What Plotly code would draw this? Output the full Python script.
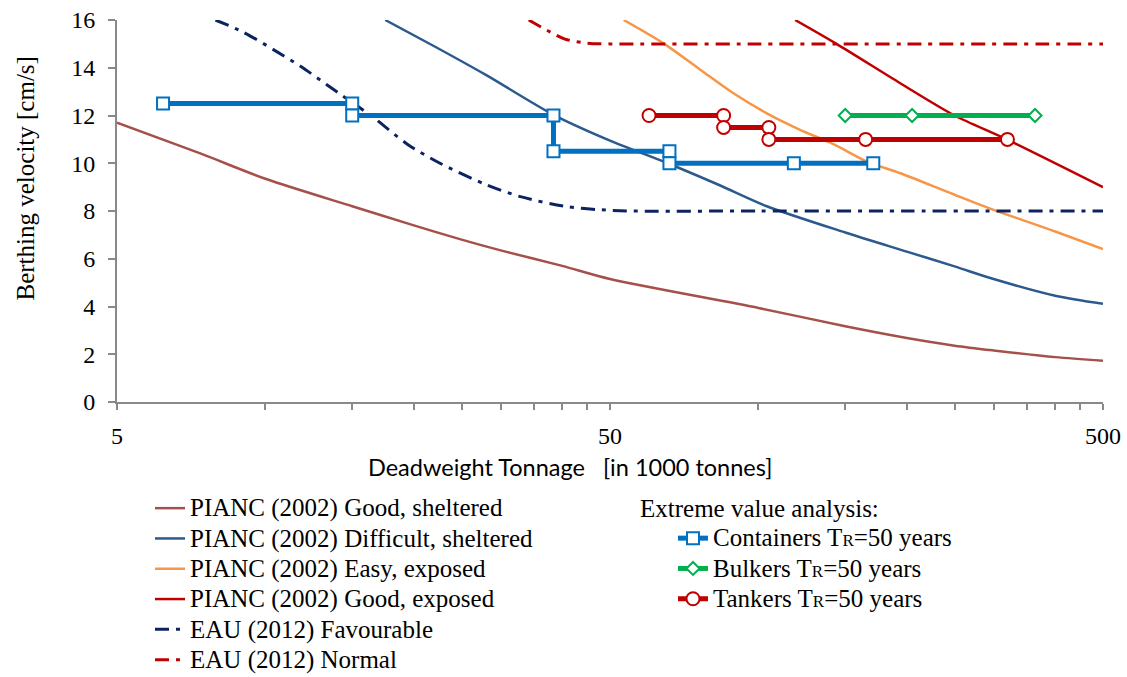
import math
import plotly.graph_objects as go

# ---------------- data ----------------
# x: deadweight tonnage in 1000 t, y: berthing velocity in cm/s
pianc_good_sheltered_x = [5, 7.4, 10, 15, 20, 25, 30, 40, 50, 100, 150, 200, 250, 300, 400, 500]
pianc_good_sheltered_y = [11.7, 10.4, 9.35, 8.2, 7.4, 6.8, 6.35, 5.7, 5.15, 3.94, 3.17, 2.68, 2.36, 2.16, 1.88, 1.73]

pianc_difficult_sheltered_x = [17.5, 22, 28, 38.4, 50, 66, 83, 104, 150, 200, 250, 300, 400, 500]
pianc_difficult_sheltered_y = [16, 14.9, 13.7, 12.03, 10.95, 9.97, 9.1, 8.2, 7.1, 6.3, 5.68, 5.15, 4.45, 4.11]

pianc_easy_exposed_x = [53.3, 64.2, 76.2, 89, 104, 121.5, 142, 166, 194, 250, 300, 400, 500]
pianc_easy_exposed_y = [16, 15.02, 13.92, 12.93, 12.09, 11.4, 10.8, 10.07, 9.58, 8.68, 8.05, 7.14, 6.41]

pianc_good_exposed_x = [118.7, 144, 194, 250, 319, 500]
pianc_good_exposed_y = [16, 15.0, 13.35, 12.0, 11.0, 9.0]

eau_favourable_x = [7.92, 9.0, 10.4, 11.8, 13.3, 14.4, 16.6, 19.4, 22.6, 27.7, 32.9, 40.9, 48, 55, 100, 200, 500]
eau_favourable_y = [16, 15.5, 14.75, 14.05, 13.3, 12.8, 11.9, 10.8, 10.0, 9.15, 8.6, 8.18, 8.05, 8.0, 8.0, 8.0, 8.0]

eau_normal_x = [34.2, 37.8, 40.5, 45, 50, 100, 200, 500]
eau_normal_y = [16, 15.5, 15.2, 15.03, 15.0, 15.0, 15.0, 15.0]

containers_x = [6.2, 15, 15, 38.4, 38.4, 66, 66, 118, 171]
containers_y = [12.5, 12.5, 12, 12, 10.5, 10.5, 10, 10, 10]

bulkers_x = [150, 205, 364]
bulkers_y = [12, 12, 12]

tankers_x = [60, 85, 85, 105, 105, 165, 320]
tankers_y = [12, 12, 11.5, 11.5, 11, 11, 11]

x_major_ticks = [5, 50, 500]
x_major_labels = ["5", "50", "500"]
x_minor_ticks = [10, 15, 20, 25, 30, 35, 40, 45, 100, 150, 200, 250, 300, 350, 400, 450]

# ---------------- styling ----------------
SERIF = "Liberation Serif"
SANS = "Lato"
AXIS_GREY = "#898989"

W, H = 1127, 677
ML, MR, MT, MB = 117, 24, 20, 275
PW, PH = W - ML - MR, H - MT - MB


def px_x(p):
    return (p - ML) / PW


def px_y(p):
    return (H - MB - p) / PH


def cx(p):
    return p / W


def cy(p):
    return 1 - p / H


def big(txt):
    return "<span style='font-size:25px'>" + txt + "</span>"


def tr_name(kind):
    return ("<span style='font-size:25px'>" + kind + " T</span>"
            "<span style='font-size:17px'>R</span>"
            "<span style='font-size:25px'>=50 years</span>")


fig = go.Figure()


def curve(x, y, name, color, dash=None, width=2.5):
    fig.add_trace(go.Scatter(
        x=x, y=y, mode="lines", name=big(name), legend="legend",
        line=dict(color=color, width=width, dash=dash, shape="spline", smoothing=0.8),
        hoverinfo="skip"))


DASHDOT = "14px,7px,4px,7px"
curve(pianc_good_sheltered_x, pianc_good_sheltered_y, "PIANC (2002) Good, sheltered", "#A6504B")
curve(pianc_difficult_sheltered_x, pianc_difficult_sheltered_y, "PIANC (2002) Difficult, sheltered", "#2C5A8E")
curve(pianc_easy_exposed_x, pianc_easy_exposed_y, "PIANC (2002) Easy, exposed", "#F79646")
curve(pianc_good_exposed_x, pianc_good_exposed_y, "PIANC (2002) Good, exposed", "#C00000")
curve(eau_favourable_x, eau_favourable_y, "EAU (2012) Favourable", "#0B2461", DASHDOT, 3)
curve(eau_normal_x, eau_normal_y, "EAU (2012) Normal", "#C00000", DASHDOT, 3)


def evs(x, y, kind, color, symbol, size):
    fig.add_trace(go.Scatter(
        x=x, y=y, mode="lines+markers", name=tr_name(kind), legend="legend2",
        line=dict(color=color, width=5),
        marker=dict(symbol=symbol, size=size, color="white", line=dict(color=color, width=2)),
        hoverinfo="skip"))


evs(containers_x, containers_y, "Containers", "#0070C0", "square", 12)
evs(bulkers_x, bulkers_y, "Bulkers", "#00B050", "diamond", 10)
evs(tankers_x, tankers_y, "Tankers", "#C00000", "circle", 13)

axis_common = dict(
    showline=True, linecolor=AXIS_GREY, linewidth=2,
    ticks="outside", tickcolor=AXIS_GREY, tickwidth=1.5,
    showgrid=False, zeroline=False, automargin=False,
    tickfont=dict(family=SERIF, size=24, color="black"),
)

x_range = [math.log10(5), math.log10(500)]

fig.update_layout(
    width=W, height=H,
    margin=dict(l=ML, r=MR, t=MT, b=MB, pad=0, autoexpand=False),
    paper_bgcolor="white", plot_bgcolor="white",
    font=dict(family=SERIF, size=21, color="black"),
    xaxis=dict(
        type="log", range=x_range,
        tickmode="array", tickvals=x_major_ticks, ticktext=x_major_labels,
        ticklen=6, ticklabelstandoff=5,
        minor=dict(tickmode="array", tickvals=x_minor_ticks, ticks="outside",
                   ticklen=6, tickcolor=AXIS_GREY, tickwidth=1.5, showgrid=False),
        **axis_common),
    # same axis drawn again with inward ticks so the x ticks cross the axis line
    xaxis2=dict(
        type="log", range=x_range, overlaying="x", anchor="y", side="bottom",
        tickmode="array", tickvals=x_major_ticks, showticklabels=False,
        ticks="inside", ticklen=5, tickcolor=AXIS_GREY, tickwidth=1.5,
        minor=dict(tickmode="array", tickvals=x_minor_ticks, ticks="inside",
                   ticklen=5, tickcolor=AXIS_GREY, tickwidth=1.5, showgrid=False),
        showline=False, showgrid=False, zeroline=False, automargin=False),
    yaxis=dict(range=[0, 16], dtick=2, ticklen=7, ticklabelstandoff=8, **axis_common),
    legend=dict(
        xref="container", yref="container", x=cx(150), y=cy(488),
        xanchor="left", yanchor="top", bgcolor="rgba(0,0,0,0)",
        font=dict(family=SERIF, size=21, color="black"), traceorder="normal",
        itemclick=False, itemdoubleclick=False),
    legend2=dict(
        xref="container", yref="container", x=cx(673), y=cy(518),
        xanchor="left", yanchor="top", bgcolor="rgba(0,0,0,0)",
        font=dict(family=SERIF, size=21, color="black"), traceorder="normal",
        itemclick=False, itemdoubleclick=False),
    annotations=[
        dict(text="Berthing velocity [cm/s]", xref="paper", yref="paper",
             x=px_x(25), y=px_y(178.5), xanchor="center", yanchor="middle",
             textangle=-90, showarrow=False,
             font=dict(family=SERIF, size=25, color="black")),
        dict(text="Deadweight Tonnage\u00a0\u00a0\u00a0[in 1000 tonnes]", xref="paper", yref="paper",
             x=px_x(570), y=px_y(467), xanchor="center", yanchor="middle",
             showarrow=False, font=dict(family=SANS, size=23.5, color="black")),
        dict(text="Extreme value analysis:", xref="paper", yref="paper",
             x=px_x(638), y=px_y(508), xanchor="left", yanchor="middle",
             showarrow=False, font=dict(family=SERIF, size=25, color="black")),
    ],
    showlegend=True,
)

fig.write_html("out.html", config={"displayModeBar": False},
               post_script="document.body.style.margin='0';")
